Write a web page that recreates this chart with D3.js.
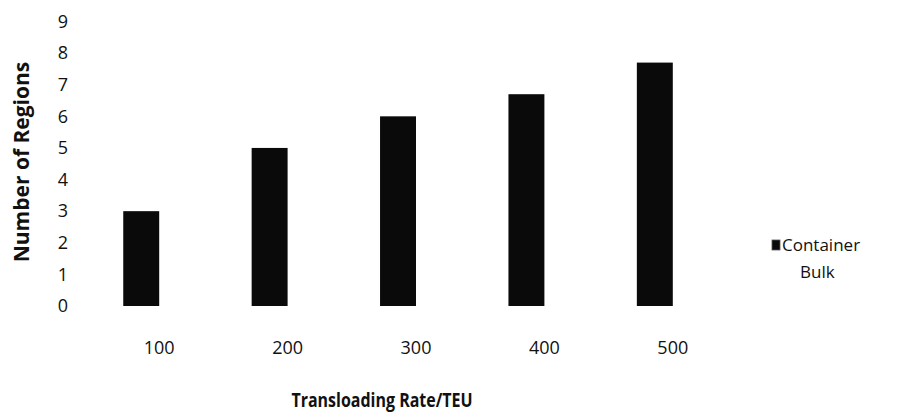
<!DOCTYPE html>
<html>
<head>
<meta charset="utf-8">
<script src="https://cdn.jsdelivr.net/npm/d3@7"></script>
<style>
  html, body { margin: 0; padding: 0; background: #fff; }
  svg { display: block; }
  text { font-family: "Open Sans", Lato, sans-serif; fill: #111; }
</style>
</head>
<body>
<svg id="chart" width="910" height="415"></svg>
<script>
const categories = ["100", "200", "300", "400", "500"];
const seriesNames = ["Container", "Bulk"];
const containerValues = [3, 5, 6, 6.7, 7.7];
const bulkValues = [0, 0, 0, 0, 0];
const yTicks = [0, 1, 2, 3, 4, 5, 6, 7, 8, 9];
const xTitle = "Transloading Rate/TEU";
const yTitle = "Number of Regions";

const colors = { Container: "#0a0a0a", Bulk: "#ffffff" };

const svg = d3.select("#chart");
const plot = { left: 95, right: 737, top: 21.5, bottom: 306 };

const x = d3.scaleBand().domain(categories).range([plot.left, plot.right]).paddingInner(0.44).paddingOuter(0.22);
const xs = d3.scaleBand().domain(seriesNames).range([0, x.bandwidth()]);
const y = d3.scaleLinear().domain([0, 9]).range([plot.bottom, plot.top]);

const data = categories.map((c, i) => ({ cat: c, Container: containerValues[i], Bulk: bulkValues[i] }));

const g = svg.append("g");
const groups = g.selectAll("g.cat").data(data).join("g")
  .attr("transform", d => `translate(${x(d.cat)},0)`);
groups.selectAll("rect").data(d => seriesNames.map(s => ({ s, v: d[s] }))).join("rect")
  .attr("x", d => xs(d.s))
  .attr("width", xs.bandwidth())
  .attr("y", d => y(d.v))
  .attr("height", d => y(0) - y(d.v))
  .attr("fill", d => colors[d.s]);

// Y axis (labels only)
const yAxis = d3.axisLeft(y).tickValues(yTicks).tickSize(0).tickPadding(0);
const ya = svg.append("g").attr("transform", `translate(68,0)`).call(yAxis);
ya.select(".domain").remove();
ya.selectAll("text").style("font-size", "18px").style("font-family", "\"Open Sans\", sans-serif").attr("fill", "#111");

// X axis (labels only)
const xAxis = d3.axisBottom(x).tickSize(0).tickPadding(0);
const xa = svg.append("g").attr("transform", `translate(0,341)`).call(xAxis);
xa.select(".domain").remove();
xa.selectAll("text").style("font-size", "18px").style("font-family", "\"Open Sans\", sans-serif").attr("fill", "#111");

// Titles
svg.append("text").attr("transform", "translate(382,407) scale(1,1.2)").attr("text-anchor", "middle")
  .style("font-size", "16px").style("font-weight", "bold").text(xTitle);
svg.append("text").attr("transform", "translate(29,162) rotate(-90)").attr("text-anchor", "middle")
  .style("font-size", "21px").style("font-weight", "bold").text(yTitle);

// Legend
const legend = svg.append("g");
const legendY = d3.scalePoint().domain(seriesNames).range([245, 272]);
seriesNames.forEach(s => {
  if (s === "Container") {
    legend.append("rect").attr("x", 772).attr("y", legendY(s) - 5).attr("width", 8).attr("height", 10)
      .attr("fill", colors[s]).attr("stroke", "#555").attr("stroke-width", 0.8);
  }
  legend.append("text").attr("x", s === "Container" ? 782 : 800).attr("y", legendY(s)).attr("dy", "0.35em")
    .style("font-size", "17px").text(s);
});
</script>
</body>
</html>
